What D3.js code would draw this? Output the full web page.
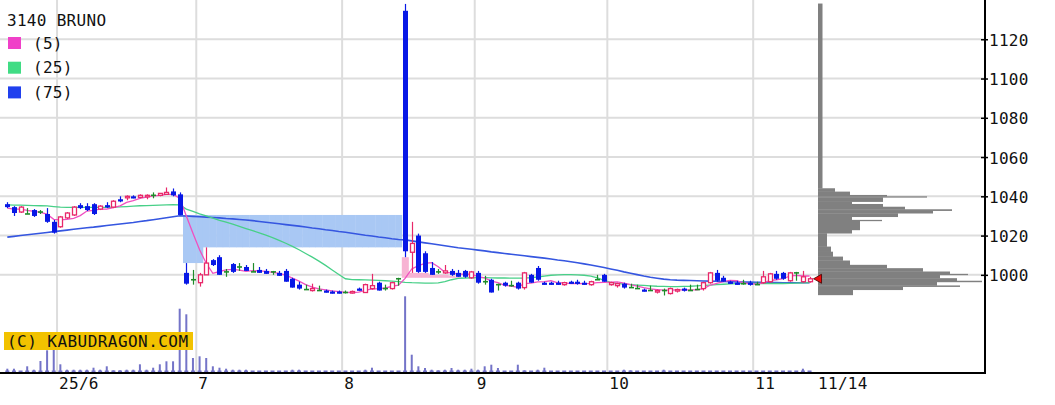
<!DOCTYPE html>
<html><head><meta charset="utf-8">
<script src="https://cdn.jsdelivr.net/npm/d3@7"></script>
<style>
html,body{margin:0;padding:0;background:#fff;}
svg{display:block;}
text{font-family:"DejaVu Sans Mono",monospace;font-size:16px;fill:#111;letter-spacing:0.3px;}
</style>
</head><body>
<svg id="c" width="1055" height="405"></svg>
<script>
const dates = ["5/21","5/22","5/23","5/26","5/27","5/28","5/29","5/30",
"6/2","6/3","6/4","6/5","6/6","6/9","6/10","6/11","6/12","6/13","6/16","6/17","6/18","6/19","6/20","6/23","6/24","6/25","6/26","6/27","6/30",
"7/1","7/2","7/3","7/4","7/7","7/8","7/9","7/10","7/11","7/14","7/15","7/16","7/17","7/18","7/22","7/23","7/24","7/25","7/28","7/29","7/30","7/31",
"8/1","8/4","8/5","8/6","8/7","8/8","8/12","8/13","8/14","8/15","8/18","8/19","8/20","8/21","8/22","8/25","8/26","8/27","8/28","8/29",
"9/1","9/2","9/3","9/4","9/5","9/8","9/9","9/10","9/11","9/12","9/16","9/17","9/18","9/19","9/22","9/24","9/25","9/26","9/29","9/30",
"10/1","10/2","10/3","10/6","10/7","10/8","10/9","10/10","10/14","10/15","10/16","10/17","10/20","10/21","10/22","10/23","10/24","10/27","10/28","10/29","10/30","10/31",
"11/4","11/5","11/6","11/7","11/10","11/11","11/12","11/13","11/14"];

const open = [1036,1034.5,1032,1031,1033,1032,1031,1027,1024.5,1029,
1030.5,1035.5,1035,1036,1033.5,1035.5,1034.5,1038.5,1039.5,1040,
1039.5,1040,1040.5,1040.5,1041,1042.5,1041,1001,997.5,996,
1000,1007.5,1009,1001.5,1005.5,1004,1004,1001.5,1002.5,1002,
1001.5,1001,1002,998,995,992.5,992,992,992,991.5,
991.5,991,991,993,991,993,996,993,993,998,
1134.5,1011.5,1020,1011,1003.5,1001.5,1001,1002,1001,1002,
998.5,1001,996.5,997.5,995,996,994.5,996,993.5,1000,
1003.5,996,996,996,995,996.5,996.5,996,995,997.5,
1000,995,994.5,995.5,993.5,993,992.5,992,991.5,992,
990.5,992,993,992,992.5,993,996,1001,998.5,996.5,
996,995.5,996,995,996,996.5,1000.5,1001,997,1001,
996.5,996.5];
const high = [1037,1035,1035,1034,1033.5,1033,1034,1028,1030,1032,
1035,1036.5,1036.5,1036.5,1035.5,1037,1038,1040,1040.5,1040.5,
1041,1041,1042,1041.5,1044.5,1044,1042,1006,1002.5,1001,
1014,1008,1010,1003,1006,1006,1005,1006,1004,1003,
1002,1002,1003,998.5,996.5,995,995.5,994.5,992.5,992,
992,992,992,993.5,995.5,1000.5,996.5,995,996.5,998.5,
1138,1027,1021,1012,1006.5,1003,1005,1003,1002.5,1002.5,
1002,1002,999.5,998,995.5,996.5,997,996.5,1001.5,1000.5,
1004.5,996.5,996.5,997,996.5,997,997.5,997,997,1000,
1000.5,996.5,996,996,995.5,995,993,994.5,992.5,993,
993.5,993,993.5,995,995,996.5,1001.5,1002.5,999.5,997,
997,997.5,997,996.5,1002,1001,1002,1001.5,1001.5,1001.5,
1002,999];
const low = [1034,1030,1031.5,1031,1029.5,1031,1026.5,1021,1024,1028.5,
1030,1033.5,1032.5,1030.5,1033,1034,1034,1037,1038,1039,
1039,1038.5,1039,1040,1041,1040,1030.5,995,995,994,
1000,1004.5,1000,999,1001,1002,1002,1001.5,1001,1000.5,
1000,999.5,996.5,993.5,992.5,992.5,991.5,992,991,990.5,
990.5,990.5,990.5,992,991,992.5,992,992,992.5,994.5,
1009,1001,1001,1001,1000,1000.5,1000.5,999.5,999,998.5,
998,995.5,995,991,992,994,994,992.5,992.5,996,
997,995,995,995,994.5,995.5,995,995,994.5,997.5,
996.5,994.5,993.5,993,993.5,993,991.5,992,990.5,989.5,
990,991,991.5,992,992.5,992,995.5,996.5,996.5,995.5,
995,995,994.5,995,995.5,996,997.5,997.5,996.5,997,
996,996];
const close = [1034.5,1031.5,1034.5,1031,1030,1032,1027,1021.5,1029.5,1031.5,
1034.5,1034,1033,1031,1035,1034.5,1037.5,1037.5,1040,1039.5,
1040.5,1040.5,1040.5,1041.5,1042,1040.5,1030.5,995.5,997.5,1000,
1006,1005,1000,1001.5,1001.5,1004,1002,1001.5,1001,1000.5,
1001.5,999.5,996.5,993.5,993,992.5,993,992,991,990.5,
991,991,991.5,992,995,994.5,992,993,996,998,
1012,1016,1001.5,1001.5,1000,1001.5,1002,1000,999,999,
1001.5,996,996.5,991,995,994.5,994.5,993,1001,996,
997.5,995,995.5,995.5,996,995.5,995.5,995,996.5,997.5,
996.5,996,995.5,993.5,993.5,993,992,992,992,992,
993,992.5,992,992,992.5,996,1001,997,996.5,995.5,
995,995.5,995,995,999,1000.5,998,998,1001,1001,
999,998];
const volume = [43,43,20,67,33,120,227,233,87,33,
33,33,33,53,33,67,27,27,33,33,
87,33,53,87,117,117,643,587,150,167,
150,67,53,43,33,33,33,13,13,7,
13,7,20,33,33,20,20,20,20,20,
20,7,7,20,33,53,20,20,20,20,
767,183,67,50,33,27,33,50,33,33,
43,33,67,83,50,20,20,83,27,20,
33,53,10,10,10,10,13,10,13,13,
13,13,20,33,27,10,10,10,13,33,
10,10,10,10,10,13,13,13,13,13,
13,10,10,10,10,10,10,10,10,13,
43,13];
const ma5 = [1034.0,1033.5,1033.5,1032.8,1032.3,1031.8,1030.9,1028.3,1028.0,1028.3,
1028.8,1030.2,1032.5,1032.8,1033.5,1033.5,1034.2,1035.1,1036.9,1037.8,
1039.0,1039.6,1040.2,1040.5,1041.0,1041.0,1039.0,1030.0,1021.2,1012.8,
1005.9,1000.8,1001.7,1002.5,1002.8,1002.4,1001.8,1002.1,1002.0,1001.8,
1001.3,1000.8,999.8,998.3,996.8,995.0,993.7,992.8,992.3,991.8,
991.5,991.1,991.0,991.2,992.1,992.8,993.0,993.3,994.1,994.7,
998.2,1003.0,1004.7,1005.8,1006.2,1004.1,1001.3,1001.0,1000.5,1000.3,
1000.3,999.1,998.4,996.8,996.0,994.6,994.3,993.6,995.6,995.8,
996.4,996.5,997.0,995.9,995.9,995.5,995.6,995.5,995.7,996.0,
996.2,996.3,996.4,995.8,995.0,994.3,993.5,992.8,992.5,992.2,
992.2,992.3,992.3,992.3,992.4,993.0,994.7,995.7,996.6,997.2,
997.0,995.9,995.5,995.2,995.9,997.0,997.5,998.1,999.3,999.7,
999.4,999.4];
const ma25 = [1035.6,1035.5,1035.5,1035.4,1035.3,1035.2,1035.1,1034.8,1034.5,1034.4,
1034.4,1034.4,1034.4,1034.4,1034.4,1034.4,1034.5,1034.6,1034.8,1035.0,
1035.2,1035.3,1035.4,1035.5,1035.6,1035.7,1035.6,1033.5,1032.3,1031.1,
1030.0,1028.9,1027.8,1026.8,1025.8,1024.7,1023.6,1022.5,1021.4,1020.2,
1019.0,1017.6,1016.1,1014.5,1012.8,1010.9,1009.0,1007.0,1004.8,1002.5,
1000.2,998.0,997.6,997.5,997.4,997.3,997.2,997.0,996.8,996.5,
996.2,996.0,995.9,995.8,995.8,995.9,996.5,997.5,998.2,998.4,
998.5,998.6,998.6,998.5,998.4,998.4,998.3,998.3,998.4,998.6,
998.9,999.4,999.8,1000.0,1000.1,1000.1,1000.0,999.8,999.4,998.5,
997.2,996.2,995.6,995.3,995.0,994.8,994.6,994.4,994.2,994.1,
994.0,994.0,994.1,994.2,994.4,994.6,994.8,995.0,995.2,995.4,
995.5,995.6,995.6,995.6,995.6,995.6,995.6,995.6,995.7,995.8,
995.9,996.0];
const ma75 = [1019.2,1019.6,1020.0,1020.4,1020.8,1021.2,1021.6,1022.0,1022.4,1022.8,
1023.2,1023.6,1024.0,1024.3,1024.7,1025.1,1025.5,1025.9,1026.3,1026.7,
1027.2,1027.6,1028.1,1028.6,1029.1,1029.6,1030.1,1030.0,1029.8,1029.6,
1029.4,1029.2,1029.0,1028.7,1028.5,1028.2,1027.9,1027.6,1027.2,1026.8,
1026.4,1026.0,1025.6,1025.2,1024.8,1024.4,1023.9,1023.5,1023.0,1022.6,
1022.1,1021.7,1021.2,1020.7,1020.2,1019.8,1019.3,1018.9,1018.4,1018.0,
1017.8,1017.3,1016.8,1016.3,1015.8,1015.3,1014.8,1014.3,1013.8,1013.4,
1013.0,1012.6,1012.2,1011.7,1011.3,1010.9,1010.5,1010.1,1009.7,1009.3,
1008.9,1008.5,1008.1,1007.6,1007.2,1006.7,1006.2,1005.6,1005.0,1004.4,
1003.7,1003.0,1002.3,1001.5,1000.8,1000.1,999.4,998.8,998.3,997.8,
997.5,997.3,997.2,997.1,997.0,996.9,996.8,996.7,996.6,996.5,
996.4,996.3,996.3,996.2,996.2,996.1,996.1,996.0,996.0,996.0,
996.0,996.0];

// volume-by-price profile: bin low, bin high, volume
const profLo  = [1044.1,1042.4,1040.7,1040.0,1039.5,1037.3,1036.1,1034.7,1033.4,1032.7,1031.4,1029.6,1028.0,1027.5,1022.9,1021.2,1014.4,1011.8,1009.3,1007.3,1005.1,1003.4,1001.7,1000.5,1000.0,998.3,997.0,996.4,994.6,994.0,992.4,989.8];
const profHi  = [1138.2,1044.1,1042.4,1040.7,1040.0,1039.5,1037.3,1036.1,1034.7,1033.4,1032.7,1031.4,1029.6,1028.0,1027.5,1022.9,1021.2,1014.4,1011.8,1009.3,1007.3,1005.1,1003.4,1001.7,1000.5,1000.0,998.3,997.0,996.4,994.6,994.0,992.4];
const profVol = [4.5,17,32,69,109,65,34,65,87,134,115,80,34,64,42,34,9,13,15,25,32,69,105,132,150,122,139,164,119,142,85,35];

const yTicks = [1000,1020,1040,1060,1080,1100,1120];
const monthTicks = ["6/2","7/1","8/1","9/1","10/1","11/4"];
const monthLabels = ["25/6","7","8","9","10","11"];
const lastLabel = "11/14";
const gapStart = ["6/27","8/15"];
const gapDir = [-1, 1];
const gapColor = ["#a9c8f4","#f7b3d3"];
const legendNames = ["(5)","(25)","(75)"];
const legendColors = ["#f040c8","#40dc84","#2040ee"];

const W = 1055, H = 405, plotRight = 985, baseY = 373;
const svg = d3.select("#c");
svg.append("rect").attr("width",W).attr("height",H).attr("fill","#fff");

const x = d3.scaleBand().domain(dates).range([4, 4 + 6.63*dates.length]).padding(0);
const bw = x.bandwidth();
const cx = d => x(d) + bw/2;
const y = d3.scaleLinear().domain([950,1140]).range([baseY,0]);
const vy = d3.scaleLinear().domain([0,1000]).range([baseY, baseY-100]);
const px = d3.scaleLinear().domain([0,170]).range([818, 988]);

// grid
svg.append("g").selectAll("line").data(yTicks).join("line")
  .attr("x1",0).attr("x2",plotRight).attr("y1",d=>y(d)).attr("y2",d=>y(d))
  .attr("stroke","#dddddd").attr("stroke-width",2);
svg.append("g").selectAll("line").data(monthTicks).join("line")
  .attr("x1",d=>x(d)).attr("x2",d=>x(d)).attr("y1",0).attr("y2",baseY)
  .attr("stroke","#dddddd").attr("stroke-width",2);

// price gaps (windows), shrinking as later candles fill them
const gapG = svg.append("g");
gapStart.forEach((g,k)=>{
  const s = dates.indexOf(g);
  const steps = [];
  if (gapDir[k] < 0) {
    let top = low[s-1], bot = high[s];
    for (let i=s;i<dates.length;i++){ bot = Math.max(bot, high[i]); if (bot>=top) break; steps.push({i,lo:bot,hi:top}); }
  } else {
    let bot = high[s-1], top = low[s];
    for (let i=s;i<dates.length;i++){ top = Math.min(top, low[i]); if (top<=bot) break; steps.push({i,lo:bot,hi:top}); }
  }
  gapG.selectAll(null).data(steps).join("rect")
    .attr("x",d=>x(dates[d.i])).attr("width",bw+0.4)
    .attr("y",d=>y(d.hi)).attr("height",d=>y(d.lo)-y(d.hi))
    .attr("fill",gapColor[k]);
});

// volume bars
const volG = svg.append("g").attr("fill","#7474c8");
volG.selectAll("rect.v").data(dates).join("rect").attr("class","v")
  .attr("x",d=>cx(d)-1).attr("width",2)
  .attr("y",(d,i)=>vy(volume[i])).attr("height",(d,i)=>baseY-vy(volume[i]));
volG.selectAll("rect.f").data(dates).join("rect").attr("class","f")
  .attr("x",d=>cx(d)-2).attr("width",4).attr("y",baseY-2.5).attr("height",1.5);

// volume profile
svg.append("g").selectAll("rect").data(profVol).join("rect")
  .attr("x",px(0)).attr("width",d=>px(d)-px(0))
  .attr("y",(d,i)=>y(profHi[i])).attr("height",(d,i)=>y(profLo[i])-y(profHi[i])+0.3)
  .attr("fill","#808080");

// moving averages
const line = d3.line().x((d,i)=>cx(dates[i])).y(d=>y(d));
svg.append("path").attr("d",line(ma75)).attr("fill","none").attr("stroke","#3556e0").attr("stroke-width",1.6);
svg.append("path").attr("d",line(ma25)).attr("fill","none").attr("stroke","#48d088").attr("stroke-width",1.3);
svg.append("path").attr("d",line(ma5)).attr("fill","none").attr("stroke","#f050c0").attr("stroke-width",1.3);

// candles
const RED="#e8286a", BLUE="#0818e6", GREEN="#1e8c2a";
const cg = svg.append("g");
dates.forEach((d,i)=>{
  const o=open[i], c=close[i], h=high[i], l=low[i];
  const col = c>o ? RED : (c<o ? BLUE : GREEN);
  const xc = Math.round(cx(d)) + 0.5;
  cg.append("line").attr("x1",xc).attr("x2",xc).attr("y1",y(h)).attr("y2",y(l))
    .attr("stroke",col).attr("stroke-width",1.2);
  if (c>o) {
    const t=y(c), b=y(o);
    cg.append("rect").attr("x",xc-2).attr("width",4).attr("y",t).attr("height",Math.max(b-t,1.5))
      .attr("fill","#fff").attr("stroke",col).attr("stroke-width",1.3);
  } else if (c<o) {
    const t=y(o), b=y(c);
    cg.append("rect").attr("x",xc-2.5).attr("width",5).attr("y",t).attr("height",Math.max(b-t,2.2))
      .attr("fill",col);
  } else {
    cg.append("line").attr("x1",xc-2.5).attr("x2",xc+2.5).attr("y1",y(o)).attr("y2",y(o))
      .attr("stroke",col).attr("stroke-width",1.6);
  }
});

// last price marker
const lastD = dates[dates.length-1], lastC = close[close.length-1];
const ty = y(lastC), tx = cx(lastD)+4;
svg.append("path").attr("d",`M${tx},${ty}L${tx+8},${ty-4.5}L${tx+8},${ty+4.5}Z`)
  .attr("fill","#f00a0a").attr("stroke","#400000").attr("stroke-width",0.8);

// axes
const yAxis = d3.axisRight(y).tickValues(yTicks).tickSize(3).tickFormat(d3.format("d"));
const ga = svg.append("g").attr("transform",`translate(${plotRight},0)`).call(yAxis);
ga.select(".domain").remove();
ga.selectAll(".tick line").attr("x1",-4).attr("x2",3).attr("stroke","#000").attr("stroke-width",1.5);
ga.selectAll(".tick text").attr("x",4).attr("dy",null).attr("y",6).attr("text-anchor","start");

const xAxis = d3.axisBottom(x).tickValues(monthTicks).tickFormat((d,i)=>monthLabels[i]).tickSize(0).tickPadding(0);
const gx = svg.append("g").attr("transform",`translate(0,${baseY})`).call(xAxis);
gx.select(".domain").remove();
gx.selectAll(".tick text").attr("text-anchor","start").attr("x",-bw/2+2).attr("dy",null).attr("y",16);
svg.append("text").attr("x",cx(lastD)+8.5).attr("y",baseY+16).text(lastLabel);

svg.append("line").attr("x1",0).attr("x2",plotRight+1).attr("y1",baseY).attr("y2",baseY).attr("stroke","#000").attr("stroke-width",2);
svg.append("line").attr("x1",plotRight).attr("x2",plotRight).attr("y1",0).attr("y2",baseY+1).attr("stroke","#000").attr("stroke-width",2);

// title & legend
svg.append("text").attr("x",7).attr("y",26).text("3140 BRUNO");
const lg = svg.append("g");
legendNames.forEach((n,i)=>{
  lg.append("rect").attr("x",8).attr("y",37+i*24.7).attr("width",13).attr("height",12).attr("fill",legendColors[i]);
  lg.append("text").attr("x",33).attr("y",48.5+i*24.7).text(n);
});

// watermark
svg.append("rect").attr("x",4).attr("y",332).attr("width",189).attr("height",18).attr("fill","#f2c200");
svg.append("text").attr("x",7).attr("y",346.5).attr("style","letter-spacing:0.45px").text("(C) KABUDRAGON.COM");
</script>
</body></html>
